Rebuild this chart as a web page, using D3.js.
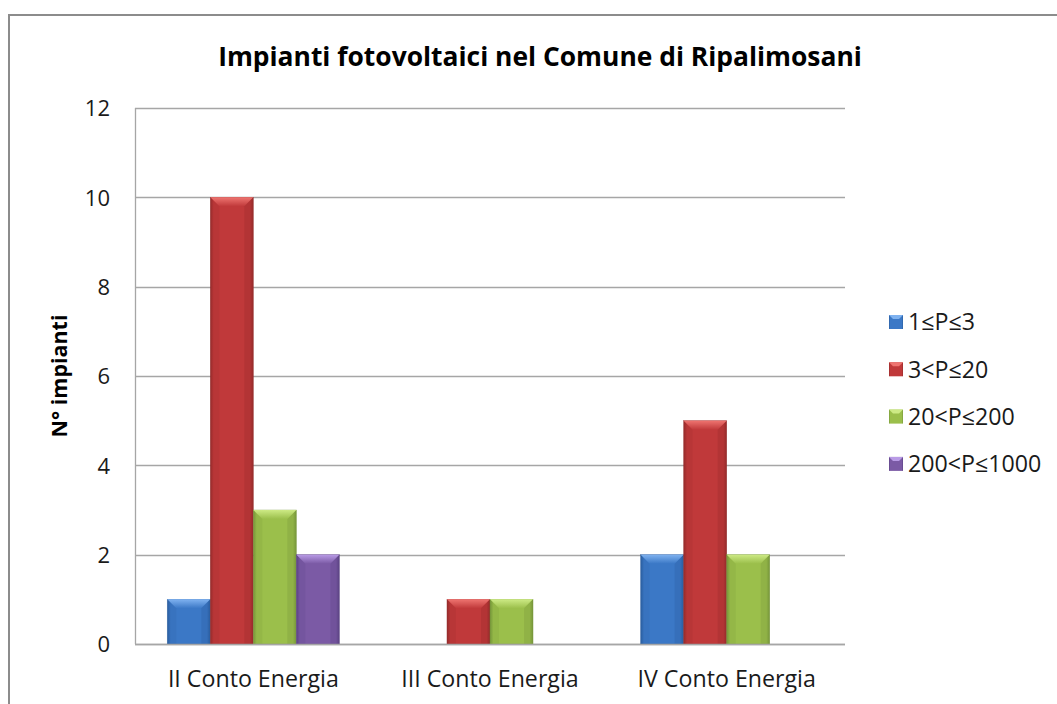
<!DOCTYPE html>
<html><head><meta charset="utf-8">
<script src="https://cdn.jsdelivr.net/npm/d3@7"></script>
<style>
html,body{margin:0;padding:0;background:#fff;}
svg{display:block;font-family:"Open Sans",sans-serif;}
</style></head>
<body>
<svg id="chart" width="1057" height="704"></svg>
<script>
const categories = ["II Conto Energia", "III Conto Energia", "IV Conto Energia"];
const seriesNames = ["1≤P≤3", "3<P≤20", "20<P≤200", "200<P≤1000"];
const s1 = [1, null, 2];
const s2 = [10, 1, 5];
const s3 = [3, 1, 2];
const s4 = [2, null, null];
const seriesValues = [s1, s2, s3, s4];
const yTicks = [0, 2, 4, 6, 8, 10, 12];
const colors = ["#3b78c6", "#c0393a", "#9bbf4b", "#7b5aa5"];
const lightColors = ["#7fb2f0", "#ee7470", "#cdea85", "#b99be6"];
const darkColors = ["#2a5d9e", "#952b2b", "#76963a", "#5b4283"];

const svg = d3.select("#chart");
const m = {left: 135, right: 845, top: 108, bottom: 644};

function fitWidth(sel, target) {
  sel.each(function() {
    const t = d3.select(this);
    const fs = parseFloat(t.attr("font-size"));
    const w = this.getComputedTextLength();
    if (w > 0) t.attr("font-size", (fs * target / w).toFixed(2));
  });
}

// outer frame
svg.append("rect").attr("x", 9).attr("y", 15).attr("width", 1060).attr("height", 720)
  .attr("fill", "#fff").attr("stroke", "#8c8c8c").attr("stroke-width", 2);

const x0 = d3.scaleBand().domain(categories).range([m.left, m.right]).paddingInner(0).paddingOuter(0);
const bw = x0.bandwidth() / 5.5;
const x1 = d3.scaleBand().domain(d3.range(seriesNames.length)).range([0, bw * 4]);
const y = d3.scaleLinear().domain([0, 12]).range([m.bottom, m.top]);

// gridlines
svg.append("g").selectAll("line").data(yTicks).join("line")
  .attr("x1", m.left).attr("x2", m.right)
  .attr("y1", d => Math.round(y(d)) + 0.5).attr("y2", d => Math.round(y(d)) + 0.5)
  .attr("stroke", "#a6a6a6").attr("stroke-width", 1.3);

// y axis
const yAxis = d3.axisLeft(y).tickValues(yTicks).tickSize(0).tickPadding(0).tickFormat(d3.format("d"));
const gy = svg.append("g").attr("transform", `translate(${m.left},0)`).call(yAxis);
gy.select(".domain").remove();
gy.selectAll("text").attr("x", -25).attr("dy", "0.36em").attr("font-size", 22).attr("fill", "#1a1a1a")
  .attr("font-family", "'Open Sans', sans-serif");
svg.append("line").attr("x1", m.left + 0.5).attr("x2", m.left + 0.5).attr("y1", m.top).attr("y2", m.bottom)
  .attr("stroke", "#a6a6a6").attr("stroke-width", 1.3);

// x axis labels
const xAxis = d3.axisBottom(x0).tickSize(0).tickPadding(0);
const gx = svg.append("g").attr("transform", `translate(0,${m.bottom})`).call(xAxis);
gx.select(".domain").remove();
gx.selectAll("text").attr("y", 0).attr("dy", null).attr("font-size", 20).attr("fill", "#1a1a1a")
  .attr("font-family", "'Open Sans', sans-serif");
fitWidth(gx.selectAll("text").filter((d, i) => i === 0), 171);
const catFs = gx.select("text").attr("font-size");
gx.selectAll("text").attr("font-size", catFs).attr("y", 43);

// gradients
const defs = svg.append("defs");
colors.forEach((c, i) => {
  const g = defs.append("linearGradient").attr("id", "g" + i).attr("x1", 0).attr("x2", 1).attr("y1", 0).attr("y2", 0);
  g.append("stop").attr("offset", "0%").attr("stop-color", darkColors[i]);
  g.append("stop").attr("offset", "8%").attr("stop-color", c);
  g.append("stop").attr("offset", "92%").attr("stop-color", c);
  g.append("stop").attr("offset", "100%").attr("stop-color", darkColors[i]);
  const t = defs.append("linearGradient").attr("id", "t" + i).attr("x1", 0).attr("x2", 0).attr("y1", 0).attr("y2", 1);
  t.append("stop").attr("offset", "0%").attr("stop-color", lightColors[i]);
  t.append("stop").attr("offset", "100%").attr("stop-color", c);
});

// bars
const bars = [];
categories.forEach((cat, ci) => {
  seriesValues.forEach((vals, si) => {
    const v = vals[ci];
    if (v == null) return;
    bars.push({cat, si, v});
  });
});
const bg = svg.append("g");
const groupOffset = (x0.bandwidth() - bw * 4) / 2;
bars.forEach(b => {
  const bx = x0(b.cat) + groupOffset + x1(b.si);
  const by = y(b.v);
  const bh = y(0) - by;
  const w = x1.bandwidth();
  const g = bg.append("g");
  g.append("rect").attr("x", bx).attr("y", by).attr("width", w).attr("height", bh)
    .attr("fill", `url(#g${b.si})`).attr("stroke", darkColors[b.si]).attr("stroke-width", 0.6).attr("stroke-opacity", 0.6);
  const bev = Math.min(9, bh / 2);
  g.append("path")
    .attr("d", `M${bx},${by} L${bx + w},${by} L${bx + w - bev},${by + bev} L${bx + bev},${by + bev} Z`)
    .attr("fill", `url(#t${b.si})`);
  g.append("path")
    .attr("d", `M${bx},${by} L${bx + bev},${by + bev} L${bx + bev},${y(0)} L${bx},${y(0)} Z`)
    .attr("fill", darkColors[b.si]).attr("opacity", 0.18);
  g.append("path")
    .attr("d", `M${bx + w},${by} L${bx + w - bev},${by + bev} L${bx + w - bev},${y(0)} L${bx + w},${y(0)} Z`)
    .attr("fill", darkColors[b.si]).attr("opacity", 0.3);
});

// bottom axis line
svg.append("line").attr("x1", m.left).attr("x2", m.right)
  .attr("y1", Math.round(y(0)) + 0.5).attr("y2", Math.round(y(0)) + 0.5)
  .attr("stroke", "#a6a6a6").attr("stroke-width", 1.3);

// title
const title = svg.append("text").attr("x", 540).attr("y", 66).attr("text-anchor", "middle")
  .attr("font-size", 24).attr("font-weight", "bold").attr("fill", "#000")
  .text("Impianti fotovoltaici nel Comune di Ripalimosani");
fitWidth(title, 644);

// y title
const yt = svg.append("text").attr("transform", "translate(67,376) rotate(-90)").attr("text-anchor", "middle")
  .attr("font-size", 19).attr("font-weight", "bold").attr("fill", "#000")
  .text("N° impianti");
fitWidth(yt, 123);

// legend
const lg = svg.append("g");
seriesNames.forEach((n, i) => {
  const ly = 322 + i * 47.3;
  lg.append("rect").attr("x", 889).attr("y", ly - 7).attr("width", 14).attr("height", 14)
    .attr("fill", `url(#g${i})`);
  lg.append("path").attr("d", `M889,${ly - 7} L903,${ly - 7} L899,${ly - 3} L893,${ly - 3} Z`)
    .attr("fill", lightColors[i]);
  lg.append("text").attr("x", 908).attr("y", ly).attr("dy", "0.36em")
    .attr("font-size", parseFloat(catFs)).attr("fill", "#1a1a1a").text(n);
});
</script>
</body></html>
